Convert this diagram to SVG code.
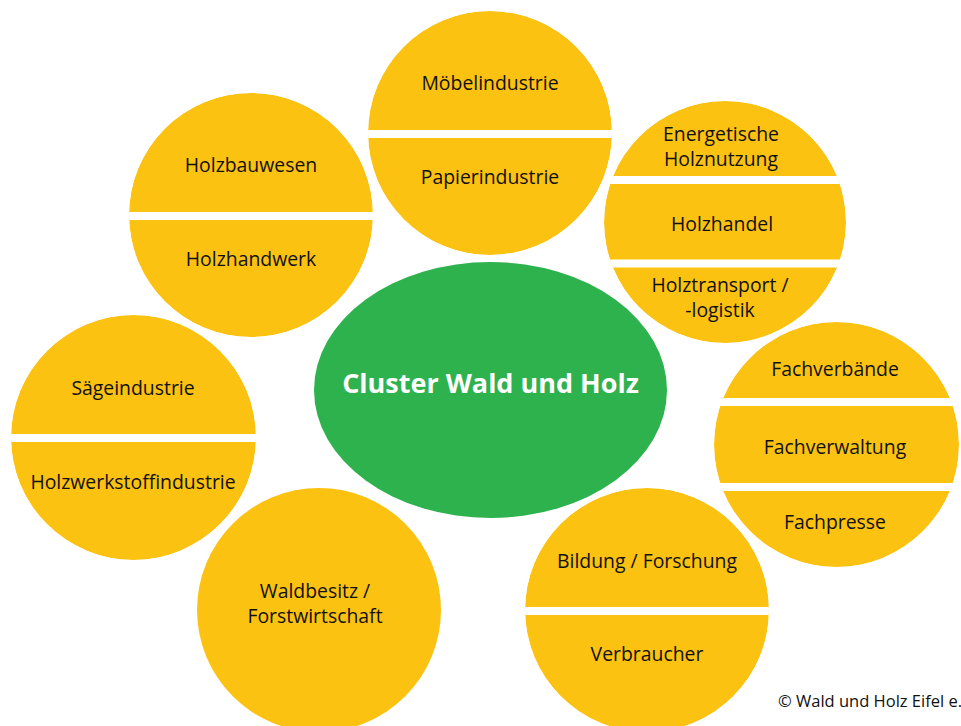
<svg xmlns="http://www.w3.org/2000/svg" width="961" height="726" viewBox="0 0 961 726">
  <style>
    .bubble { fill: #FCC212; }
    .gap { fill: #FFFFFF; }
    .label { font-family: "Open Sans", "Noto Sans", "Liberation Sans", sans-serif; font-size: 19.4px; fill: #111111; text-anchor: middle; }
    .core { fill: #2EB24E; }
    .core-label { font-family: "Open Sans", "Noto Sans", "Liberation Sans", sans-serif; font-size: 27px; font-weight: bold; fill: #FFFFFF; text-anchor: middle; }
    .credit { font-family: "Open Sans", "Noto Sans", "Liberation Sans", sans-serif; font-size: 16.5px; fill: #111111; }
  </style>
  <defs>
    <clipPath id="clip-moebel"><circle cx="490" cy="133" r="122"/></clipPath>
    <clipPath id="clip-holzbau"><circle cx="251" cy="215" r="122"/></clipPath>
    <clipPath id="clip-energie"><circle cx="725" cy="222" r="121"/></clipPath>
    <clipPath id="clip-saege"><circle cx="133.5" cy="437.5" r="122.5"/></clipPath>
    <clipPath id="clip-fach"><circle cx="836.5" cy="444.5" r="122.5"/></clipPath>
    <clipPath id="clip-bildung"><circle cx="647" cy="610" r="122"/></clipPath>
  </defs>

  <rect width="961" height="726" fill="#FFFFFF"/>

  <!-- no connectors: the sectors touch the core only by position -->
  <g id="connectors"></g>

  <!-- central cluster -->
  <g id="node-cluster">
    <ellipse class="core" cx="490.5" cy="390" rx="176.5" ry="128"/>
    <text class="core-label" x="490.5" y="393">Cluster Wald und Holz</text>
  </g>

  <!-- furniture / paper -->
  <g id="node-moebel-papier">
    <g clip-path="url(#clip-moebel)">
      <circle class="bubble" cx="490" cy="133" r="122"/>
      <rect class="gap" x="360" y="130" width="260" height="8"/>
    </g>
    <text class="label" x="490" y="90">Möbelindustrie</text>
    <text class="label" x="490" y="184">Papierindustrie</text>
  </g>

  <!-- timber construction / crafts -->
  <g id="node-holzbau-handwerk">
    <g clip-path="url(#clip-holzbau)">
      <circle class="bubble" cx="251" cy="215" r="122"/>
      <rect class="gap" x="120" y="212" width="262" height="8"/>
    </g>
    <text class="label" x="251" y="172">Holzbauwesen</text>
    <text class="label" x="251" y="266">Holzhandwerk</text>
  </g>

  <!-- energy / trade / transport -->
  <g id="node-energie-handel-transport">
    <g clip-path="url(#clip-energie)">
      <circle class="bubble" cx="725" cy="222" r="121"/>
      <rect class="gap" x="595" y="176" width="260" height="8"/>
      <rect class="gap" x="595" y="259.5" width="260" height="8"/>
    </g>
    <text class="label" x="721" y="141">Energetische</text>
    <text class="label" x="721" y="166">Holznutzung</text>
    <text class="label" x="722" y="231">Holzhandel</text>
    <text class="label" x="720" y="292">Holztransport /</text>
    <text class="label" x="720" y="317">-logistik</text>
  </g>

  <!-- sawmills / wood-based panels -->
  <g id="node-saege-holzwerkstoff">
    <g clip-path="url(#clip-saege)">
      <circle class="bubble" cx="133.5" cy="437.5" r="122.5"/>
      <rect class="gap" x="0" y="434" width="266" height="8"/>
    </g>
    <text class="label" x="133" y="395">Sägeindustrie</text>
    <text class="label" x="133" y="489">Holzwerkstoffindustrie</text>
  </g>

  <!-- associations / administration / press -->
  <g id="node-fach">
    <g clip-path="url(#clip-fach)">
      <circle class="bubble" cx="836.5" cy="444.5" r="122.5"/>
      <rect class="gap" x="705" y="398" width="265" height="8"/>
      <rect class="gap" x="705" y="483" width="265" height="8"/>
    </g>
    <text class="label" x="835" y="376">Fachverbände</text>
    <text class="label" x="835" y="454">Fachverwaltung</text>
    <text class="label" x="835" y="529">Fachpresse</text>
  </g>

  <!-- forest ownership -->
  <g id="node-waldbesitz">
    <circle class="bubble" cx="319" cy="610" r="122"/>
    <text class="label" x="315" y="598">Waldbesitz /</text>
    <text class="label" x="315" y="623">Forstwirtschaft</text>
  </g>

  <!-- education / consumers -->
  <g id="node-bildung-verbraucher">
    <g clip-path="url(#clip-bildung)">
      <circle class="bubble" cx="647" cy="610" r="122"/>
      <rect class="gap" x="515" y="607" width="264" height="8"/>
    </g>
    <text class="label" x="647" y="568">Bildung / Forschung</text>
    <text class="label" x="647" y="661">Verbraucher</text>
  </g>

  <text class="credit" x="778" y="707">© Wald und Holz Eifel e.</text>
</svg>
